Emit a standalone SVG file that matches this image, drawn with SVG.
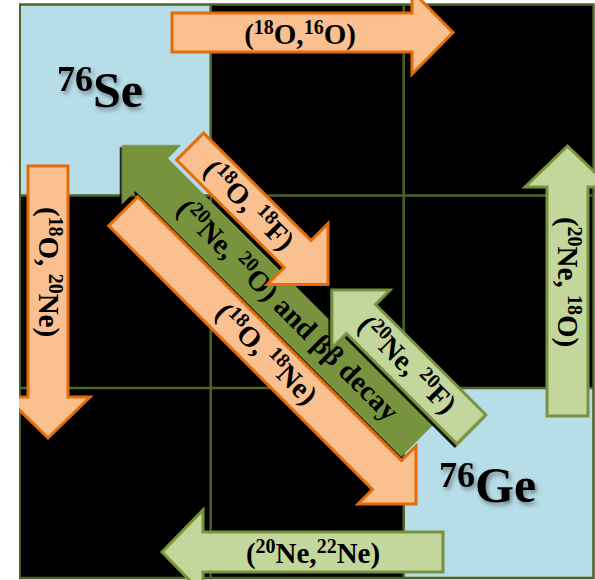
<svg xmlns="http://www.w3.org/2000/svg" width="595" height="580" viewBox="0 0 595 580">
  <defs>
    <style>
      .cell-dark { fill: #000000; }
      .cell-light { fill: #B7DDE8; }
      .grid { stroke: #4F6228; stroke-width: 2.5; fill: none; }
      .or { fill: #FAC090; stroke: #E46C0A; stroke-width: 3; stroke-linejoin: miter; }
      .lg { fill: #C3D69B; stroke: #77933C; stroke-width: 3; stroke-linejoin: miter; }
      .dg { fill: #77933C; }
      .lbl { font-family: "Liberation Serif", "Times New Roman", serif; font-weight: bold; font-size: 29px; fill: #000000; }
      .sup { font-size: 20px; }
      .iso { font-family: "Liberation Serif", "Times New Roman", serif; font-weight: bold; font-size: 50px; fill: #000000; }
    </style>
    <clipPath id="frame">
      <rect x="19" y="0" width="576" height="580"/>
    </clipPath>
    <filter id="shade" x="-10%" y="-10%" width="120%" height="120%">
      <feDropShadow dx="0" dy="3" stdDeviation="0.6" flood-color="#000000" flood-opacity="0.9"/>
    </filter>
    <filter id="soft" x="-20%" y="-20%" width="140%" height="140%">
      <feDropShadow dx="2" dy="3" stdDeviation="2.2" flood-color="#000000" flood-opacity="0.4"/>
    </filter>
  </defs>

  <rect width="595" height="580" fill="#FFFFFF"/>

  <g clip-path="url(#frame)">
    <!-- 3x3 grid of cells -->
    <g id="grid">
      <rect class="cell-dark" x="19.7" y="4.5" width="573.8" height="573.5"/>
      <rect class="cell-light" x="19.7" y="4.5" width="191" height="191"/>
      <rect class="cell-light" x="403.7" y="388" width="189.8" height="190"/>
      <rect class="grid" x="19.7" y="4.5" width="573.8" height="573.5"/>
      <line class="grid" x1="210.7" y1="4.5" x2="210.7" y2="578"/>
      <line class="grid" x1="403.7" y1="4.5" x2="403.7" y2="578"/>
      <line class="grid" x1="19.7" y1="195.5" x2="593.5" y2="195.5"/>
      <line class="grid" x1="19.7" y1="388" x2="593.5" y2="388"/>
    </g>

    <g id="node-se">
      <text class="iso" x="57" y="107" filter="url(#soft)"><tspan font-size="36px" dy="-16">76</tspan><tspan dy="16">Se</tspan></text>
    </g>
    <g id="node-ge">
      <text class="iso" x="439" y="502" filter="url(#soft)"><tspan font-size="36px" dy="-15">76</tspan><tspan dy="15">Ge</tspan></text>
    </g>

    <g id="connectors">
      <!-- (18O,16O): Se -> right -->
      <g id="arrow-18O-16O">
        <polygon class="or" points="172,13 412,13 412,-9 453,32.5 412,74 412,52 172,52"/>
        <text class="lbl" x="300" y="44" text-anchor="middle">(<tspan class="sup" dy="-10">18</tspan><tspan dy="10">O,</tspan><tspan class="sup" dy="-10">16</tspan><tspan dy="10">O)</tspan></text>
      </g>

      <!-- (18O,20Ne): Se -> down -->
      <g id="arrow-18O-20Ne">
        <polygon class="or" points="28,166 68,166 68,397 90,397 48,438 6,397 28,397"/>
        <text class="lbl" transform="translate(48,272) rotate(90)" x="0" y="9" text-anchor="middle">(<tspan class="sup" dy="-10">18</tspan><tspan dy="10">O, </tspan><tspan class="sup" dy="-10">20</tspan><tspan dy="10">Ne)</tspan></text>
      </g>

      <!-- (20Ne,18O): Ge -> up -->
      <g id="arrow-20Ne-18O">
        <polygon class="lg" points="547,416 588,416 588,187 610,187 567.5,146 525,187 547,187"/>
        <text class="lbl" transform="translate(567,282) rotate(90)" x="0" y="9" text-anchor="middle">(<tspan class="sup" dy="-10">20</tspan><tspan dy="10">Ne, </tspan><tspan class="sup" dy="-10">18</tspan><tspan dy="10">O)</tspan></text>
      </g>

      <!-- (20Ne,22Ne): Ge -> left -->
      <g id="arrow-20Ne-22Ne">
        <polygon class="lg" points="443,532 443,572 203,572 203,594 162,552 203,510 203,532"/>
        <text class="lbl" x="313" y="563" text-anchor="middle">(<tspan class="sup" dy="-10">20</tspan><tspan dy="10">Ne,</tspan><tspan class="sup" dy="-10">22</tspan><tspan dy="10">Ne)</tspan></text>
      </g>

      <!-- (20Ne,20O) and double beta decay: Ge -> Se -->
      <g id="arrow-20Ne-20O" transform="translate(122,145) rotate(45)">
        <polygon class="dg" filter="url(#shade)" points="0,0 42,-42 42,-23 418,-23 418,23 42,23 42,42"/>
        <text class="lbl" x="234" y="9" text-anchor="middle">(<tspan class="sup" dy="-10">20</tspan><tspan dy="10">Ne, </tspan><tspan class="sup" dy="-10">20</tspan><tspan dy="10">O) and ββ decay</tspan></text>
      </g>

      <!-- (18O,18F): Se -> centre -->
      <g id="arrow-18O-18F" transform="translate(328,284.5) rotate(45)">
        <polygon class="or" points="0,0 -43,-43 -43,-19 -195,-19 -195,19 -43,19 -43,43"/>
        <text class="lbl" x="-112" y="9" text-anchor="middle">(<tspan class="sup" dy="-10">18</tspan><tspan dy="10">O, </tspan><tspan class="sup" dy="-10">18</tspan><tspan dy="10">F)</tspan></text>
      </g>

      <!-- (18O,18Ne): Se -> Ge -->
      <g id="arrow-18O-18Ne" transform="translate(416,504) rotate(45)">
        <polygon class="or" points="0,0 -41,-41 -41,-20.5 -414,-20.5 -414,20.5 -41,20.5 -41,41"/>
        <text class="lbl" x="-212" y="9" text-anchor="middle">(<tspan class="sup" dy="-10">18</tspan><tspan dy="10">O, </tspan><tspan class="sup" dy="-10">18</tspan><tspan dy="10">Ne)</tspan></text>
      </g>

      <!-- (20Ne,20F): Ge -> centre -->
      <g id="arrow-20Ne-20F" transform="translate(332,290) rotate(45)">
        <polygon class="lg" filter="url(#shade)" points="0,0 41,-41 41,-20.5 197,-20.5 197,20.5 41,20.5 41,41"/>
        <text class="lbl" x="106" y="9" text-anchor="middle">(<tspan class="sup" dy="-10">20</tspan><tspan dy="10">Ne, </tspan><tspan class="sup" dy="-10">20</tspan><tspan dy="10">F)</tspan></text>
      </g>
    </g>
  </g>
</svg>
